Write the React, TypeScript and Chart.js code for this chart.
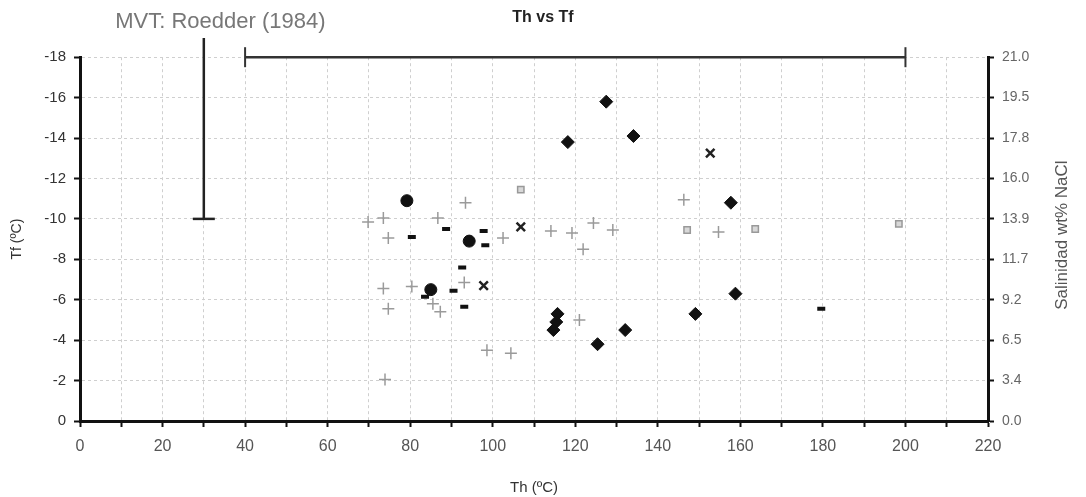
import React, { useEffect, useRef } from 'react';
import { Chart, registerables } from 'chart.js';
Chart.register(...registerables);

// Th (°C), Tf (°C)
const diamondPts: number[][] = [
  [118.2, -13.8], [127.5, -15.8], [134.1, -14.1], [157.7, -10.8], [158.8, -6.3],
  [149.1, -5.3], [115.7, -5.3], [115.4, -4.9], [114.7, -4.5], [125.4, -3.8], [132.1, -4.5],
];
const circlePts: number[][] = [
  [79.2, -10.9], [94.3, -8.9], [85.0, -6.5],
];
const dashPts: number[][] = [
  [80.4, -9.1], [88.7, -9.5], [97.8, -9.4], [98.2, -8.7], [92.6, -7.6],
  [90.5, -6.45], [83.6, -6.15], [93.1, -5.65], [179.6, -5.55],
];
const starPts: number[][] = [
  [106.8, -9.6], [97.8, -6.7], [152.7, -13.25],
];
const plusPts: number[][] = [
  [93.4, -10.8], [86.7, -10.05], [73.5, -10.05], [69.8, -9.85], [74.7, -9.05],
  [73.5, -6.55], [80.4, -6.65], [93.1, -6.85], [74.7, -5.55], [87.3, -5.4],
  [85.5, -5.8], [73.9, -2.05], [98.6, -3.5], [104.4, -3.35], [121.0, -5.0],
  [102.5, -9.05], [114.1, -9.4], [119.2, -9.3], [124.4, -9.8], [129.1, -9.45],
  [121.9, -8.5], [146.3, -10.95], [154.7, -9.35],
];
const squarePts: number[][] = [
  [106.8, -11.45], [147.1, -9.45], [163.6, -9.5], [198.4, -9.75],
];
// MVT range: Roedder (1984)
const mvtTfLine: number[][] = [[30, -18.95], [30, -10]];
const mvtTfCap: number[][] = [[30, -10]];
const mvtThLine: number[][] = [[40, -18], [200, -18]];
const mvtThCaps: number[][] = [[40, -18], [200, -18]];
const mvtLabel = 'MVT: Roedder (1984)';
const mvtLabelPos = [34, -19.75];

const salinityLabels = ['0.0', '3.4', '6.5', '9.2', '11.7', '13.9', '16.0', '17.8', '19.5', '21.0'];
const salinityTitle = 'Salinidad wt% NaCl';

const toXY = (a: number[][]) => a.map(([x, y]) => ({ x, y }));

const FONT = "'Liberation Sans', Arial, sans-serif";
const NARROW = "'Liberation Sans Narrow', 'Liberation Sans', Arial, sans-serif";

const textPlugin = {
  id: 'extraText',
  afterDraw(chart: any) {
    const { ctx, scales, chartArea } = chart;
    const px = scales.x.getPixelForValue(mvtLabelPos[0]);
    const py = scales.y.getPixelForValue(mvtLabelPos[1]);
    ctx.save();
    ctx.font = `22px ${FONT}`;
    ctx.fillStyle = '#777';
    ctx.textAlign = 'center';
    ctx.textBaseline = 'middle';
    ctx.fillText(mvtLabel, px, py);
    ctx.restore();

    // right axis title, reading bottom to top
    const y2 = scales.y2;
    ctx.save();
    ctx.font = `17px ${FONT}`;
    ctx.fillStyle = '#555';
    ctx.textAlign = 'center';
    ctx.textBaseline = 'middle';
    ctx.translate(y2.right - 24, (chartArea.top + chartArea.bottom) / 2 - 4);
    ctx.rotate(-Math.PI / 2);
    ctx.fillText(salinityTitle, 0, 0);
    ctx.restore();
  },
};

export default function App() {
  const ref = useRef<HTMLCanvasElement>(null);
  useEffect(() => {
    if (!ref.current) return;
    const grid = {
      color: '#cfcfcf',
      lineWidth: 1,
      tickColor: '#111',
      tickWidth: 2,
      tickLength: 6,
    };
    const chart = new Chart(ref.current, {
      type: 'scatter',
      data: {
        datasets: [
          { label: 'sq', data: toXY(squarePts), pointStyle: 'rect', pointRadius: 4.5, backgroundColor: '#d8d8d8', borderColor: '#999', borderWidth: 1.5 },
          { label: 'plus', data: toXY(plusPts), pointStyle: 'cross', pointRadius: 6, borderColor: '#9a9a9a', borderWidth: 1.5, backgroundColor: '#9a9a9a' },
          { label: 'dash', data: toXY(dashPts), pointStyle: 'line', pointRadius: 4, borderColor: '#111', borderWidth: 4 },
          { label: 'star', data: toXY(starPts), pointStyle: 'crossRot', pointRadius: 6, borderColor: '#222', borderWidth: 2.5 },
          { label: 'circle', data: toXY(circlePts), pointStyle: 'circle', pointRadius: 6, backgroundColor: '#111', borderColor: '#111' },
          { label: 'diamond', data: toXY(diamondPts), pointStyle: 'rectRot', pointRadius: 6.5, backgroundColor: '#111', borderColor: '#111' },
          { type: 'line', label: 'mvtTf', data: toXY(mvtTfLine), showLine: true, pointRadius: 0, borderColor: '#222', borderWidth: 2.5, clip: false } as any,
          { label: 'mvtTfCap', data: toXY(mvtTfCap), pointStyle: 'line', pointRadius: 11, borderColor: '#222', borderWidth: 2.5, clip: false } as any,
          { type: 'line', label: 'mvtTh', data: toXY(mvtThLine), showLine: true, pointRadius: 0, borderColor: '#333', borderWidth: 2.5, clip: false } as any,
          { label: 'mvtThCaps', data: toXY(mvtThCaps), pointStyle: 'line', rotation: 90, pointRadius: 10, borderColor: '#333', borderWidth: 2, clip: false } as any,
        ],
      },
      options: {
        animation: false,
        responsive: false,
        maintainAspectRatio: false,
        layout: { padding: 0 },
        plugins: {
          legend: { display: false },
          tooltip: { enabled: false },
          title: {
            display: true,
            text: 'Th vs Tf',
            color: '#222',
            font: { family: FONT, size: 16, weight: 'bold' },
            padding: { top: 8, bottom: 30 },
          },
        },
        scales: {
          x: {
            type: 'linear',
            position: 'bottom',
            min: 0,
            max: 220,
            grid: { ...grid },
            border: { display: true, color: '#111', width: 3, dash: [3, 3] },
            ticks: {
              stepSize: 10,
              autoSkip: false,
              maxRotation: 0,
              padding: 10,
              color: '#555',
              font: { family: NARROW, size: 16 },
              callback: (v: any) => (Number(v) % 20 === 0 ? String(v) : ''),
            },
            title: {
              display: true,
              text: 'Th (ºC)',
              color: '#333',
              font: { family: FONT, size: 15 },
              padding: { top: 8, bottom: 0 },
            },
            afterFit: (s: any) => { s.height = 76; },
          },
          y: {
            type: 'linear',
            position: 'left',
            reverse: true,
            min: -18,
            max: 0,
            grid: { ...grid },
            border: { display: true, color: '#111', width: 3, dash: [3, 3] },
            ticks: {
              stepSize: 2,
              padding: 8,
              color: '#333',
              font: { family: FONT, size: 15 },
            },
            title: {
              display: true,
              text: 'Tf (ºC)',
              color: '#333',
              font: { family: FONT, size: 14 },
              padding: { top: 8.6, bottom: 0 },
            },
            afterFit: (s: any) => { s.width = 80; },
          },
          y2: {
            type: 'linear',
            position: 'right',
            min: 0,
            max: 18,
            grid: { ...grid, drawOnChartArea: false },
            border: { display: true, color: '#111', width: 3 },
            ticks: {
              stepSize: 2,
              padding: 8,
              color: '#666',
              font: { family: FONT, size: 14 },
              callback: (v: any) => salinityLabels[Math.round(Number(v) / 2)] ?? '',
            },
            title: { display: false },
            afterFit: (s: any) => { s.width = 98; },
          },
        },
      },
      plugins: [textPlugin],
    } as any);
    return () => chart.destroy();
  }, []);
  return (
    <div style={{ position: 'absolute', left: 0, top: 0, width: 1086, height: 497, background: '#fff' }}>
      <canvas ref={ref} width={1086} height={497} style={{ width: 1086, height: 497, display: 'block' }} />
    </div>
  );
}
